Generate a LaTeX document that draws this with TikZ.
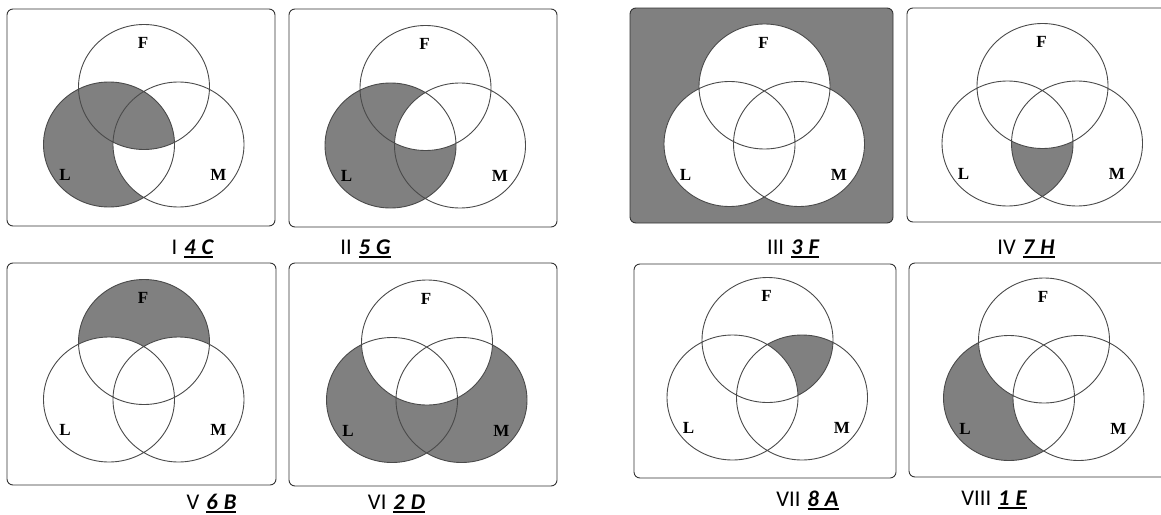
\documentclass[tikz,border=0pt]{standalone}
\usepackage{fontspec}
\setmainfont{Liberation Serif}
\newfontfamily\capfont{Carlito}
\definecolor{shadegray}{HTML}{808080}
\definecolor{linegray}{HTML}{4A4A4A}
\newcommand\ansul[1]{\setbox0=\hbox{\bfseries\itshape #1}\rlap{\rule[-3.5pt]{\wd0}{1.9pt}}\box0}
\tikzset{
  ell/.style={x radius=65.5pt, y radius=62.5pt},
  setline/.style={draw=linegray, line width=0.9pt},
  panelbox/.style={draw=black!80, line width=0.9pt, rounded corners=6pt},
  shadedfill/.style={fill=shadegray},
  setlabel/.style={font=\fontsize{17}{17}\selectfont\bfseries, inner sep=0pt},
  captext/.style={font=\capfont\fontsize{22.5}{22.5}\selectfont, inner sep=0pt, anchor=base},
}
\newcommand\vpanel[4]{%
  \begin{scope}[shift={(#1,#2)}]
    \coordinate (F) at (0,0);
    \coordinate (L) at (-35,57.5);
    \coordinate (M) at (34.5,57.5);
    #3
    \draw[setline] (F) circle[ell] (L) circle[ell] (M) circle[ell];
    \node[setlabel] (lblF#4) at (-1,-44) {F};
    \node[setlabel] (lblL#4) at (-79,88) {L};
    \node[setlabel] (lblM#4) at (74.5,88) {M};
  \end{scope}}
% caption: centre x, baseline y, numeral, answer digit, answer letter
\newcommand\vcaption[5]{%
  \node[captext] (cap#3) at (#1,#2) {#3\hspace{7pt}\ansul{#4\hspace{6pt}#5}};}
\begin{document}
\begin{tikzpicture}[x=1pt,y=-1pt]
\path[clip] (0,0) rectangle (1161,514);
% ---------- I ----------
\vpanel{144}{87}{%
  \fill[shadedfill] (L) circle[ell];
  \begin{scope}
    \clip (L) circle[ell];
    \fill[white] (M) circle[ell];
    \clip (M) circle[ell];
    \fill[shadedfill] (F) circle[ell];
  \end{scope}}{I}
\draw[panelbox] (7,9) rectangle (275,226);
\vcaption{192.5}{254}{I}{4}{C}
% ---------- II ----------
\vpanel{425.5}{88}{%
  \fill[shadedfill] (L) circle[ell];
  \begin{scope}
    \clip (L) circle[ell];
    \clip (M) circle[ell];
    \fill[white] (F) circle[ell];
  \end{scope}}{II}
\draw[panelbox] (289,9) rectangle (557,227);
\vcaption{365.5}{254}{II}{5}{G}
% ---------- III ----------
\fill[shadedfill, rounded corners=6pt] (630,8) rectangle (893,223);
\vpanel{764.5}{86.5}{%
  \fill[white] (F) circle[ell] (L) circle[ell] (M) circle[ell];}{III}
\draw[panelbox] (630,8) rectangle (893,223);
\vcaption{793}{254}{III}{3}{F}
% ---------- IV ----------
\vpanel{1042.5}{86}{%
  \begin{scope}
    \clip (L) circle[ell];
    \fill[shadedfill] (M) circle[ell];
  \end{scope}
  \fill[white] (F) circle[ell];}{IV}
\draw[panelbox] (907,8) rectangle (1175,222);
\vcaption{1026}{254}{IV}{7}{H}
% ---------- V ----------
\vpanel{144}{342}{%
  \fill[shadedfill] (F) circle[ell];
  \fill[white] (L) circle[ell] (M) circle[ell];}{V}
\draw[panelbox] (7,263) rectangle (276,485);
\vcaption{211.5}{509}{V}{6}{B}
% ---------- VI ----------
\vpanel{427}{342.5}{%
  \fill[shadedfill] (L) circle[ell] (M) circle[ell];
  \fill[white] (F) circle[ell];}{VI}
\draw[panelbox] (289,263) rectangle (557,486);
\vcaption{396.5}{509}{VI}{2}{D}
% ---------- VII ----------
\vpanel{767.5}{340}{%
  \begin{scope}
    \clip (F) circle[ell];
    \fill[shadedfill] (M) circle[ell];
  \end{scope}
  \fill[white] (L) circle[ell];}{VII}
\draw[panelbox] (634,264) rectangle (896,478);
\vcaption{807.5}{506}{VII}{8}{A}
% ---------- VIII ----------
\vpanel{1044}{340.5}{%
  \fill[shadedfill] (L) circle[ell];
  \fill[white] (F) circle[ell] (M) circle[ell];}{VIII}
\draw[panelbox] (909,263) rectangle (1175,477);
\vcaption{994}{505}{VIII}{1}{E}
\end{tikzpicture}
\end{document}
